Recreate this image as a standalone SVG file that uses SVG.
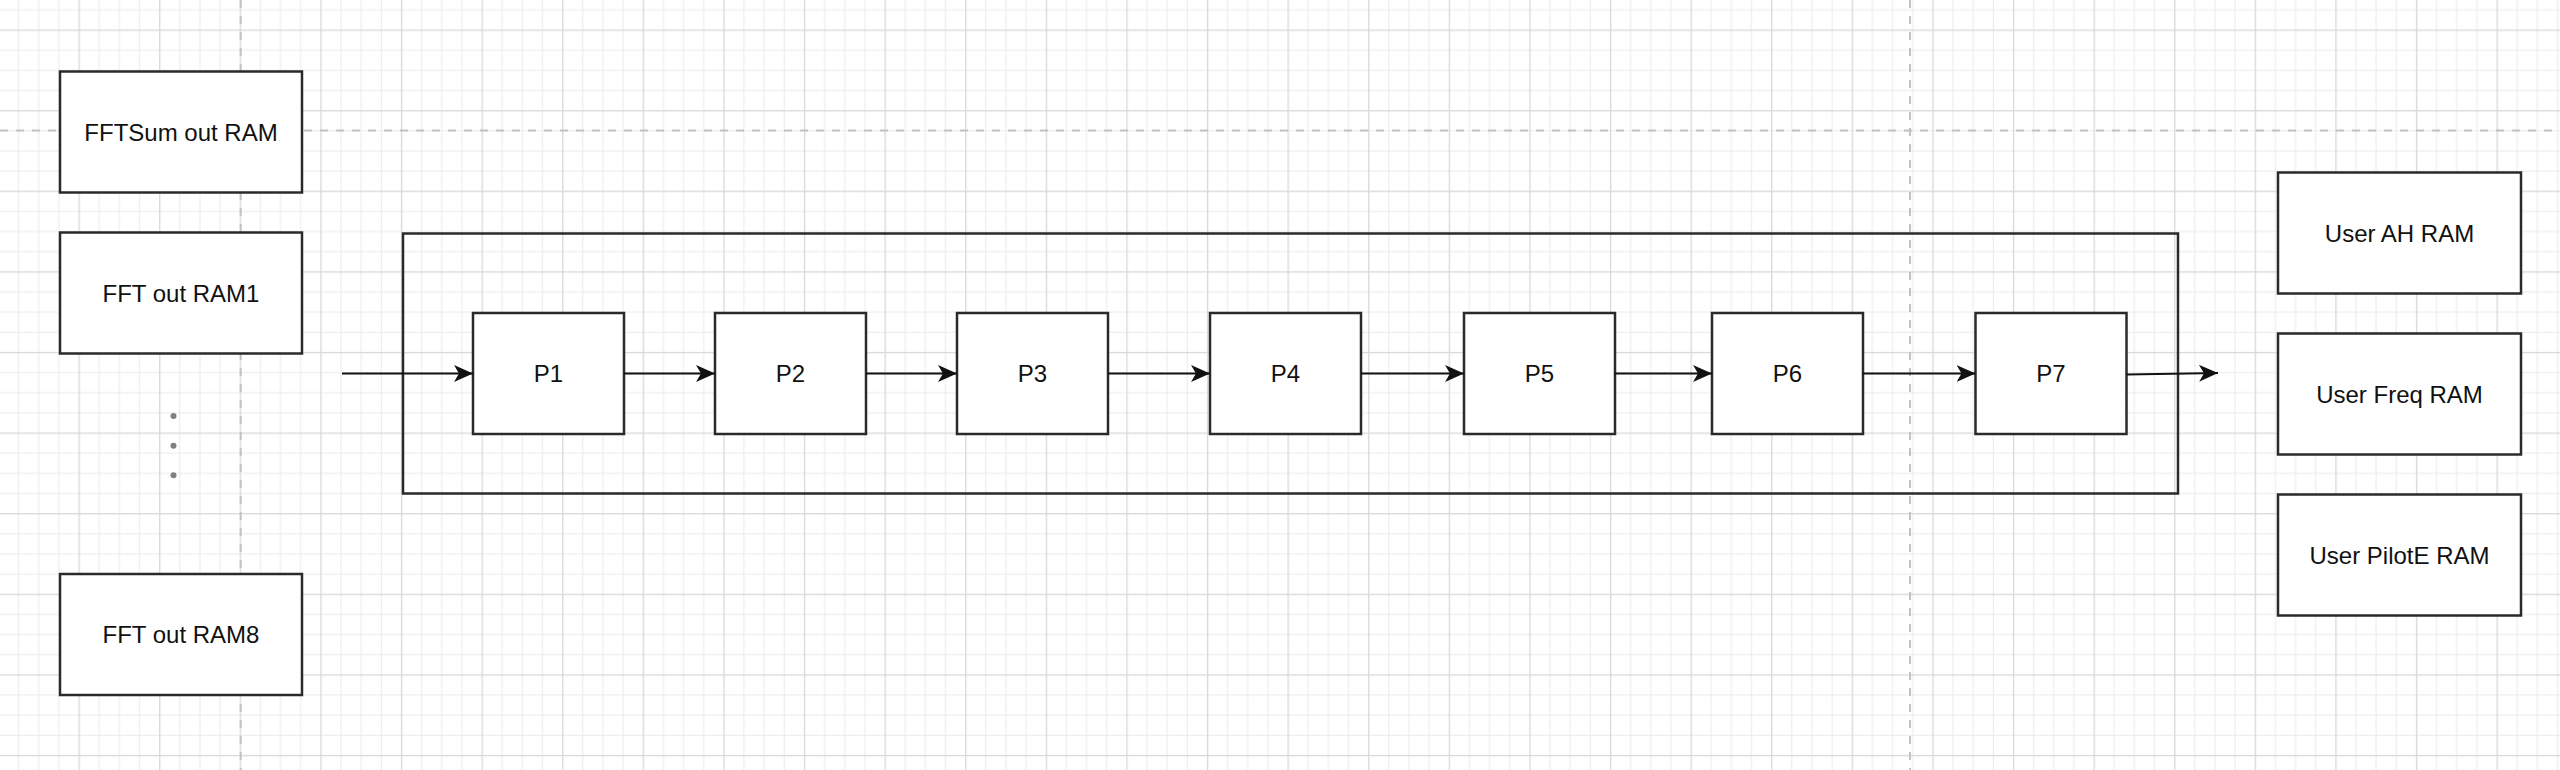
<svg xmlns="http://www.w3.org/2000/svg" width="2560" height="770" viewBox="0 0 2560 770">
  <style>
    .box { fill: #ffffff; stroke: #2a2a2a; stroke-width: 2.5; }
    .frame { fill: none; stroke: #2a2a2a; stroke-width: 2.5; }
    .lbl { font-family: "Liberation Sans", Arial, Helvetica, sans-serif; font-size: 24px; fill: #111111; text-anchor: middle; }
    .edge { fill: none; stroke: #111111; stroke-width: 2.2; }
    .pagebreak { stroke: #c2c2c2; stroke-width: 2; stroke-dasharray: 8 8; fill: none; }
    .dot { fill: #808080; }
  </style>
  <defs>
    <pattern id="grid" patternUnits="userSpaceOnUse" x="78.5" y="29.5" width="80.6" height="80.6">
      <rect x="0" y="0" width="80.6" height="80.6" fill="#ffffff"/>
      <rect x="20.15" y="0" width="1" height="80.6" fill="#ebebeb"/>
      <rect x="40.3" y="0" width="1" height="80.6" fill="#ebebeb"/>
      <rect x="60.45" y="0" width="1" height="80.6" fill="#ebebeb"/>
      <rect x="0" y="20.15" width="80.6" height="1" fill="#ebebeb"/>
      <rect x="0" y="40.3" width="80.6" height="1" fill="#ebebeb"/>
      <rect x="0" y="60.45" width="80.6" height="1" fill="#ebebeb"/>
      <rect x="0" y="0" width="1.3" height="80.6" fill="#d8d8d8"/>
      <rect x="0" y="0" width="80.6" height="1.3" fill="#d8d8d8"/>
    </pattern>
    <marker id="arrow" markerUnits="userSpaceOnUse" markerWidth="19" markerHeight="17" refX="19" refY="8.5" orient="auto" viewBox="0 0 19 17">
      <path d="M0,0 L19,8.5 L0,17 L5,8.5 Z" fill="#111111"/>
    </marker>
  </defs>

  <g id="background">
    <rect x="0" y="0" width="2560" height="770" fill="url(#grid)"/>
    <line class="pagebreak" x1="240.7" y1="0" x2="240.7" y2="770"/>
    <line class="pagebreak" x1="1910" y1="0" x2="1910" y2="770"/>
    <line class="pagebreak" x1="0" y1="130.5" x2="2560" y2="130.5"/>
  </g>

  <g id="container">
    <rect class="frame" x="403" y="233.5" width="1775" height="260"/>
  </g>

  <g id="ram-fftsum">
    <rect class="box" x="60" y="71.5" width="242" height="121"/>
    <text class="lbl" x="181" y="140.5">FFTSum out RAM</text>
  </g>
  <g id="ram-fft1">
    <rect class="box" x="60" y="232.5" width="242" height="121"/>
    <text class="lbl" x="181" y="301.5">FFT out RAM1</text>
  </g>
  <g id="ellipsis">
    <circle class="dot" cx="173.5" cy="416" r="3"/>
    <circle class="dot" cx="173.5" cy="445.7" r="3"/>
    <circle class="dot" cx="173.5" cy="475.3" r="3"/>
  </g>
  <g id="ram-fft8">
    <rect class="box" x="60" y="574" width="242" height="121"/>
    <text class="lbl" x="181" y="643">FFT out RAM8</text>
  </g>

  <g id="p1">
    <rect class="box" x="473" y="313" width="151" height="121"/>
    <text class="lbl" x="548.5" y="382">P1</text>
  </g>
  <g id="p2">
    <rect class="box" x="715" y="313" width="151" height="121"/>
    <text class="lbl" x="790.5" y="382">P2</text>
  </g>
  <g id="p3">
    <rect class="box" x="957" y="313" width="151" height="121"/>
    <text class="lbl" x="1032.5" y="382">P3</text>
  </g>
  <g id="p4">
    <rect class="box" x="1210" y="313" width="151" height="121"/>
    <text class="lbl" x="1285.5" y="382">P4</text>
  </g>
  <g id="p5">
    <rect class="box" x="1464" y="313" width="151" height="121"/>
    <text class="lbl" x="1539.5" y="382">P5</text>
  </g>
  <g id="p6">
    <rect class="box" x="1712" y="313" width="151" height="121"/>
    <text class="lbl" x="1787.5" y="382">P6</text>
  </g>
  <g id="p7">
    <rect class="box" x="1975.5" y="313" width="151" height="121"/>
    <text class="lbl" x="2051" y="382">P7</text>
  </g>

  <g id="ram-user-ah">
    <rect class="box" x="2278" y="172.5" width="243" height="121"/>
    <text class="lbl" x="2399.5" y="241.5">User AH RAM</text>
  </g>
  <g id="ram-user-freq">
    <rect class="box" x="2278" y="333.5" width="243" height="121"/>
    <text class="lbl" x="2399.5" y="402.5">User Freq RAM</text>
  </g>
  <g id="ram-user-pilote">
    <rect class="box" x="2278" y="494.5" width="243" height="121"/>
    <text class="lbl" x="2399.5" y="563.5">User PilotE RAM</text>
  </g>

  <g id="connectors">
    <line class="edge" x1="342" y1="373.5" x2="473" y2="373.5" marker-end="url(#arrow)"/>
    <line class="edge" x1="624" y1="373.5" x2="715" y2="373.5" marker-end="url(#arrow)"/>
    <line class="edge" x1="866" y1="373.5" x2="957" y2="373.5" marker-end="url(#arrow)"/>
    <line class="edge" x1="1108" y1="373.5" x2="1210" y2="373.5" marker-end="url(#arrow)"/>
    <line class="edge" x1="1361" y1="373.5" x2="1464" y2="373.5" marker-end="url(#arrow)"/>
    <line class="edge" x1="1615" y1="373.5" x2="1712" y2="373.5" marker-end="url(#arrow)"/>
    <line class="edge" x1="1863" y1="373.5" x2="1975.5" y2="373.5" marker-end="url(#arrow)"/>
    <line class="edge" x1="2126.5" y1="374.5" x2="2218" y2="373" marker-end="url(#arrow)"/>
  </g>
</svg>
